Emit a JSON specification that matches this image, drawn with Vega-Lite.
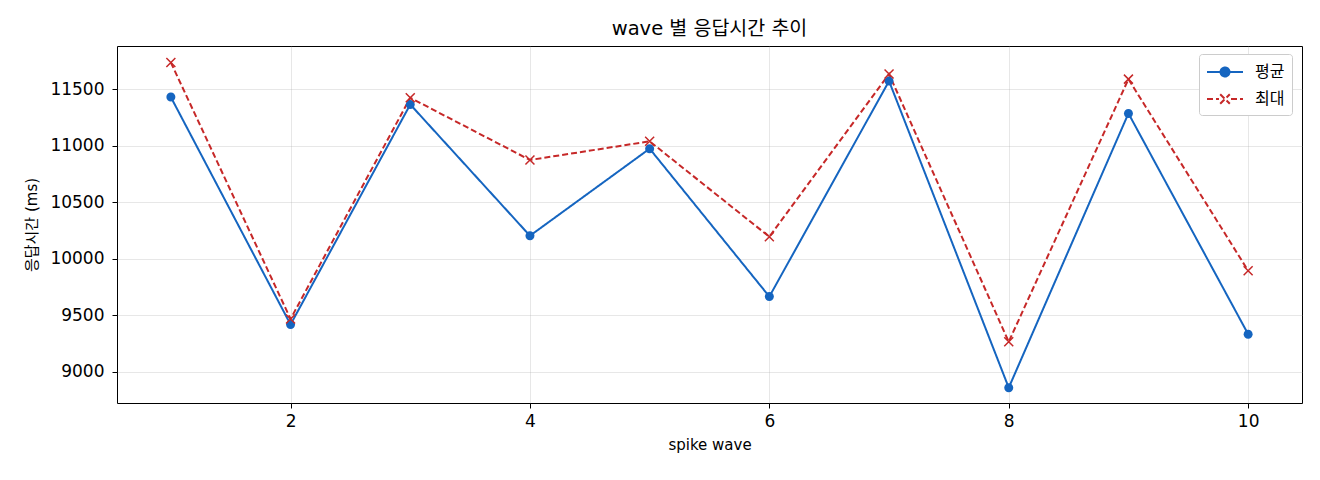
{
  "$schema": "https://vega.github.io/schema/vega-lite/v6.json",
  "autosize": "none",
  "padding": {"left": 117, "top": 46, "right": 18, "bottom": 77},
  "width": 1185,
  "height": 357,
  "background": "white",
  "title": {"text": "wave 별 응답시간 추이", "fontSize": 19.5, "fontWeight": "normal", "offset": 7, "anchor": "middle", "font": "DejaVu Sans, Noto Sans CJK KR", "color": "#000"},
  "data": {"values": [
    {"wave": 1, "series": "평균", "ms": 11429}, {"wave": 1, "series": "최대", "ms": 11735},
    {"wave": 2, "series": "평균", "ms": 9418}, {"wave": 2, "series": "최대", "ms": 9467},
    {"wave": 3, "series": "평균", "ms": 11364}, {"wave": 3, "series": "최대", "ms": 11423},
    {"wave": 4, "series": "평균", "ms": 10203}, {"wave": 4, "series": "최대", "ms": 10873},
    {"wave": 5, "series": "평균", "ms": 10973}, {"wave": 5, "series": "최대", "ms": 11038},
    {"wave": 6, "series": "평균", "ms": 9665}, {"wave": 6, "series": "최대", "ms": 10194},
    {"wave": 7, "series": "평균", "ms": 11571}, {"wave": 7, "series": "최대", "ms": 11633},
    {"wave": 8, "series": "평균", "ms": 8859}, {"wave": 8, "series": "최대", "ms": 9265},
    {"wave": 9, "series": "평균", "ms": 11285}, {"wave": 9, "series": "최대", "ms": 11588},
    {"wave": 10, "series": "평균", "ms": 9333}, {"wave": 10, "series": "최대", "ms": 9894}
  ]},
  "encoding": {
    "x": {"field": "wave", "type": "quantitative", "title": "spike wave",
          "scale": {"domain": [0.55, 10.45], "nice": false, "zero": false},
          "axis": {"values": [2, 4, 6, 8, 10], "labelPadding": 5, "titlePadding": 8}},
    "y": {"field": "ms", "type": "quantitative", "title": "응답시간 (ms)",
          "scale": {"domain": [8724, 11881], "nice": false, "zero": false},
          "axis": {"values": [9000, 9500, 10000, 10500, 11000, 11500], "format": "d", "labelPadding": 8, "titlePadding": 10}}
  },
  "layer": [
    {
      "mark": {"type": "line", "strokeWidth": 2},
      "encoding": {
        "color": {"field": "series", "type": "nominal",
                  "scale": {"domain": ["평균", "최대"], "range": ["#1565c0", "#c62828"]},
                  "legend": {
                    "title": null, "orient": "none", "legendX": 1082, "legendY": 8, "padding": 7,
                    "fillColor": "white", "strokeColor": "#cccccc", "cornerRadius": 3,
                    "symbolSize": 400, "symbolOffset": 8, "labelOffset": 19, "rowPadding": 7,
                    "symbolStrokeWidth": 2, "labelFontSize": 16, "labelFont": "DejaVu Sans, Noto Sans CJK KR", "labelColor": "#000",
                    "encode": {"symbols": {"update": {
                      "shape": {"signal": "datum.value === '평균' ? 'M-1.8,0L1.8,0M0.45,0A0.45,0.45 0 1,1 -0.45,0A0.45,0.45 0 1,1 0.45,0' : 'M-1.8,0L-0.6,0M0.6,0L1.8,0M-0.48,-0.48L0.48,0.48M-0.48,0.48L0.48,-0.48'"},
                      "fill": {"signal": "datum.value === '평균' ? '#1565c0' : 'transparent'"},
                      "stroke": {"signal": "datum.value === '평균' ? '#1565c0' : '#c62828'"},
                      "strokeDash": {"value": [1, 0]},
                      "opacity": {"value": 1},
                      "fillOpacity": {"value": 1},
                      "strokeWidth": {"value": 2}
                    }}}
                  }},
        "strokeDash": {"field": "series", "type": "nominal",
                       "scale": {"domain": ["평균", "최대"], "range": [[1, 0], [6, 3]]}, "legend": null}
      }
    },
    {
      "transform": [{"filter": "datum.series === '평균'"}],
      "mark": {"type": "point", "filled": true, "opacity": 1, "size": 100, "color": "#1565c0",
               "shape": "M0.9,0A0.9,0.9 0 1,1 -0.9,0A0.9,0.9 0 1,1 0.9,0Z"}
    },
    {
      "transform": [{"filter": "datum.series === '최대'"}],
      "mark": {"type": "point", "filled": false, "opacity": 1, "size": 100, "strokeWidth": 1.5, "color": "#c62828",
               "shape": "M-0.9,-0.9L0.9,0.9M-0.9,0.9L0.9,-0.9"}
    }
  ],
  "config": {
    "view": {"stroke": "#000", "strokeWidth": 1},
    "axis": {
      "domain": false, "grid": true, "gridColor": "#b0b0b0", "gridOpacity": 0.3, "gridWidth": 1,
      "tickColor": "#000", "tickSize": 5, "tickWidth": 1,
      "labelFont": "DejaVu Sans, Noto Sans CJK KR", "labelFontSize": 17, "labelColor": "#000",
      "titleFont": "DejaVu Sans, Noto Sans CJK KR", "titleFontSize": 15, "titleFontWeight": "normal", "titleColor": "#000"
    }
  }
}
